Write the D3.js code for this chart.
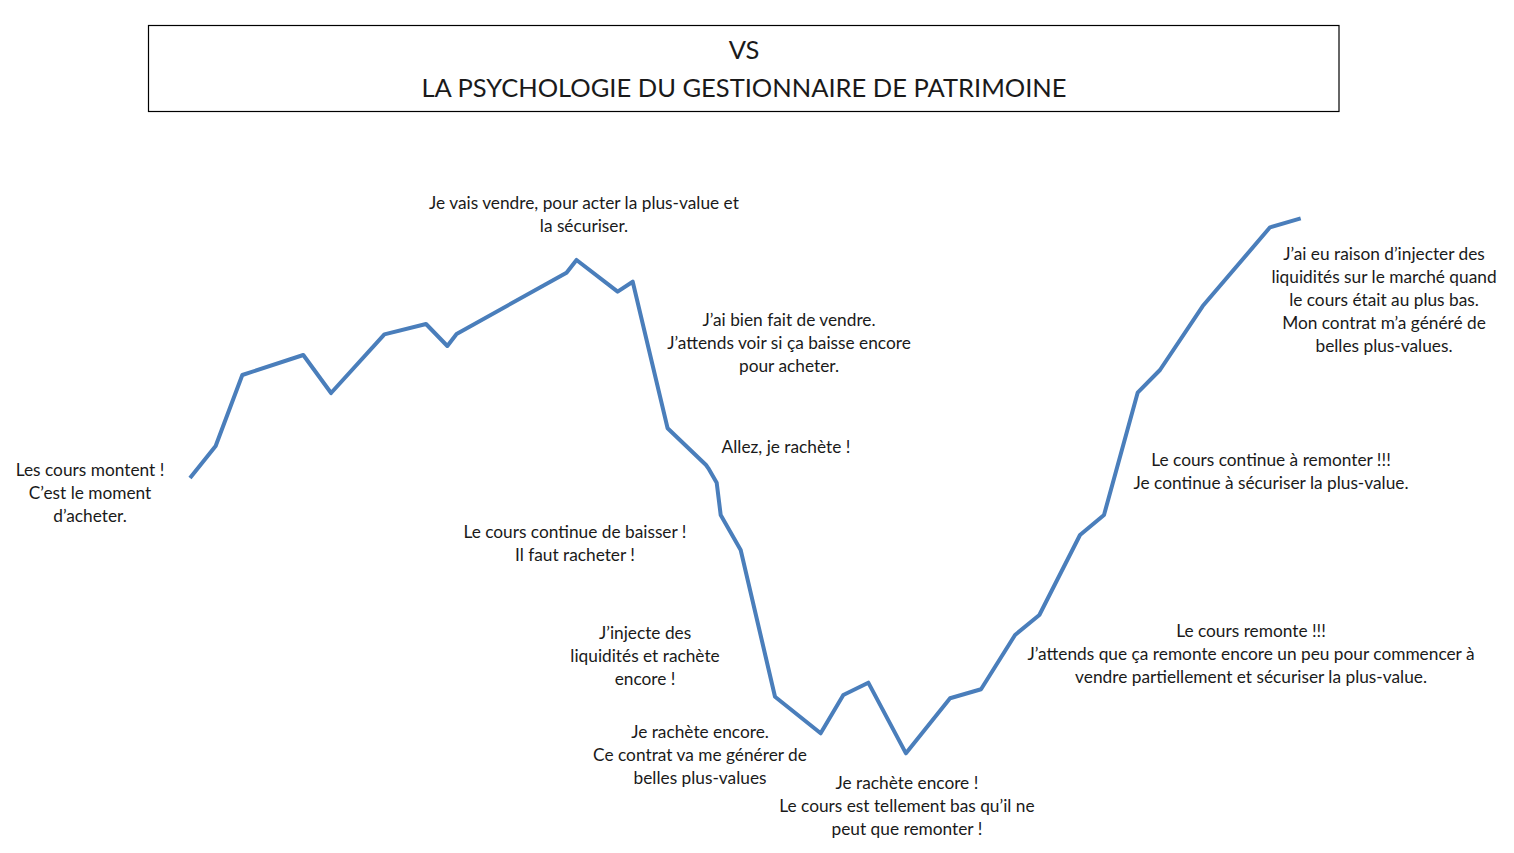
<!DOCTYPE html>
<html>
<head>
<meta charset="utf-8">
<script src="https://cdn.jsdelivr.net/npm/d3@7"></script>
<style>
  html, body { margin: 0; padding: 0; background: #ffffff; }
  svg { display: block; }
  text { font-family: Lato, "Open Sans", sans-serif; fill: #1a1a1a; }
</style>
</head>
<body>
<svg id="chart" width="1514" height="853"></svg>
<script>
// ---- DATA ----
const titleLines = ["VS", "LA PSYCHOLOGIE DU GESTIONNAIRE DE PATRIMOINE"];

// time (arbitrary units) and price (arbitrary units)
const timeValues = [0, 2.31, 4.71, 10.2, 12.7, 17.5, 21.25, 23.17, 24.0, 33.9, 34.8, 38.5, 39.86,
  43.0, 46.46, 46.67, 47.42, 47.78, 49.58, 52.67, 56.78, 58.82, 61.07, 64.46, 68.43, 71.22,
  74.28, 76.47, 80.13, 82.29, 85.32, 87.33, 91.18, 97.24, 100];
const priceValues = [52.07, 57.59, 69.83, 73.28, 66.72, 76.84, 78.62, 74.83, 76.9, 87.47, 89.66, 84.19, 85.91,
  60.64, 54.31, 53.74, 51.26, 45.69, 39.66, 14.36, 8.05, 14.66, 16.78, 4.6, 14.09, 15.64,
  25.0, 28.45, 42.24, 45.69, 66.78, 70.69, 81.72, 95.29, 96.84];

const annotationTexts = [
  ["Les cours montent !", "C\u2019est le moment", "d\u2019acheter."],
  ["Je vais vendre, pour acter la plus-value et", "la s\u00e9curiser."],
  ["J\u2019ai bien fait de vendre.", "J\u2019attends voir si \u00e7a baisse encore", "pour acheter."],
  ["Allez, je rach\u00e8te !"],
  ["Le cours continue de baisser !", "Il faut racheter !"],
  ["J\u2019injecte des", "liquidit\u00e9s et rach\u00e8te", "encore !"],
  ["Je rach\u00e8te encore.", "Ce contrat va me g\u00e9n\u00e9rer de", "belles plus-values"],
  ["Je rach\u00e8te encore !", "Le cours est tellement bas qu\u2019il ne", "peut que remonter !"],
  ["Le cours remonte !!!", "J\u2019attends que \u00e7a remonte encore un peu pour commencer \u00e0", "vendre partiellement et s\u00e9curiser la plus-value."],
  ["Le cours continue \u00e0 remonter !!!", "Je continue \u00e0 s\u00e9curiser la plus-value."],
  ["J\u2019ai eu raison d\u2019injecter des", "liquidit\u00e9s sur le march\u00e9 quand", "le cours \u00e9tait au plus bas.", "Mon contrat m\u2019a g\u00e9n\u00e9r\u00e9 de", "belles plus-values."]
];
// annotation anchors in data units (time, price)
const annotationTime = [-9.0, 35.47, 53.93, 53.66, 34.66, 40.97, 45.92, 64.55, 95.53, 97.33, 107.5];
const annotationPrice = [52.4, 98.45, 78.28, 56.38, 41.72, 24.31, 7.24, -1.55, 24.66, 54.14, 89.66];

// ---- CHART ----
const svg = d3.select("#chart");
const x = d3.scaleLinear().domain([0, 100]).range([190, 1300.7]);
const y = d3.scaleLinear().domain([0, 100]).range([780, 200]);

// title box
svg.append("rect")
  .attr("x", 148.5).attr("y", 25.5)
  .attr("width", 1190.5).attr("height", 86)
  .attr("fill", "none").attr("stroke", "#000").attr("stroke-width", 1.2);

svg.selectAll("text.title").data(titleLines).join("text")
  .attr("class", "title")
  .attr("x", 744)
  .attr("y", (d, i) => 59 + i * 38)
  .attr("text-anchor", "middle")
  .attr("font-size", 25.5)
  .text(d => d);

// line
const series = timeValues.map((t, i) => ({ t, p: priceValues[i] }));
const line = d3.line().x(d => x(d.t)).y(d => y(d.p));
svg.append("path")
  .datum(series)
  .attr("d", line)
  .attr("fill", "none")
  .attr("stroke", "#4a7ebb")
  .attr("stroke-width", 4)
  .attr("stroke-linejoin", "round");

// annotations
const ann = svg.selectAll("text.ann").data(annotationTexts).join("text")
  .attr("class", "ann")
  .attr("text-anchor", "middle")
  .attr("font-size", 17.3)
  .attr("x", (d, i) => x(annotationTime[i]))
  .attr("y", (d, i) => y(annotationPrice[i]));
ann.each(function(lines, i) {
  const t = d3.select(this);
  lines.forEach((l, j) => {
    t.append("tspan")
      .attr("x", x(annotationTime[i]))
      .attr("dy", j === 0 ? 0 : 23)
      .text(l);
  });
});
</script>
</body>
</html>
